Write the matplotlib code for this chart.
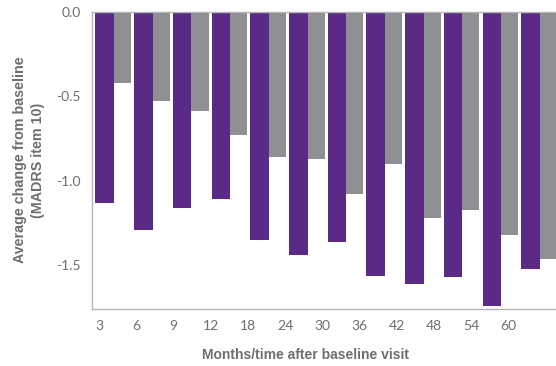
import numpy as np
import matplotlib.pyplot as plt

months = ['3', '6', '9', '12', '18', '24', '30', '36', '42', '48', '54', '60']
purple_vals = [-1.13, -1.29, -1.16, -1.11, -1.35, -1.44, -1.36, -1.56, -1.61, -1.57, -1.74, -1.52]
gray_vals = [-0.42, -0.53, -0.59, -0.73, -0.86, -0.87, -1.08, -0.90, -1.22, -1.17, -1.32, -1.46]

purple = '#5b2a86'
gray = '#8d8f92'
text_gray = '#6d6e71'

fig = plt.figure(figsize=(5.56, 3.66), dpi=100)
ax = fig.add_axes([92 / 556, 57 / 366, 468 / 556, 297.5 / 366])

x = np.arange(len(months))
ax.bar(x - 0.45, purple_vals, width=0.48, align='edge', color=purple)
ax.bar(x + 0.03, gray_vals, width=0.44, align='edge', color=gray)

ax.set_ylim(-1.757, 0)
ax.set_xlim(-0.54, 11.55)
ax.set_yticks([0, -0.5, -1.0, -1.5])
ax.set_yticklabels(['0.0', '-0.5', '-1.0', '-1.5'])
# tick labels in the original sit slightly off the bar groups
ax.set_xticks(x * 0.961 - 0.356)
ax.set_xticklabels(months)
ax.tick_params(length=0, labelsize=10, colors=text_gray, pad=8)
for lab in ax.get_xticklabels() + ax.get_yticklabels():
    lab.set_family('Lato')

for s in ['left', 'top', 'bottom']:
    ax.spines[s].set_color('#b5b5b5')
    ax.spines[s].set_linewidth(1)
ax.spines['right'].set_visible(False)

fig.text(29 / 556, 1 - 160 / 366, 'Average change from baseline\n(MADRS item 10)',
         fontsize=10.3, fontweight='bold', color=text_gray, family='Liberation Sans',
         rotation=90, ha='center', va='center', multialignment='center',
         linespacing=1.45)
fig.text(305 / 556, 1 - 355 / 366, 'Months/time after baseline visit', fontsize=10,
         fontweight='bold', color=text_gray, family='Liberation Sans',
         ha='center', va='center')

fig.savefig('out.png', dpi=100)
